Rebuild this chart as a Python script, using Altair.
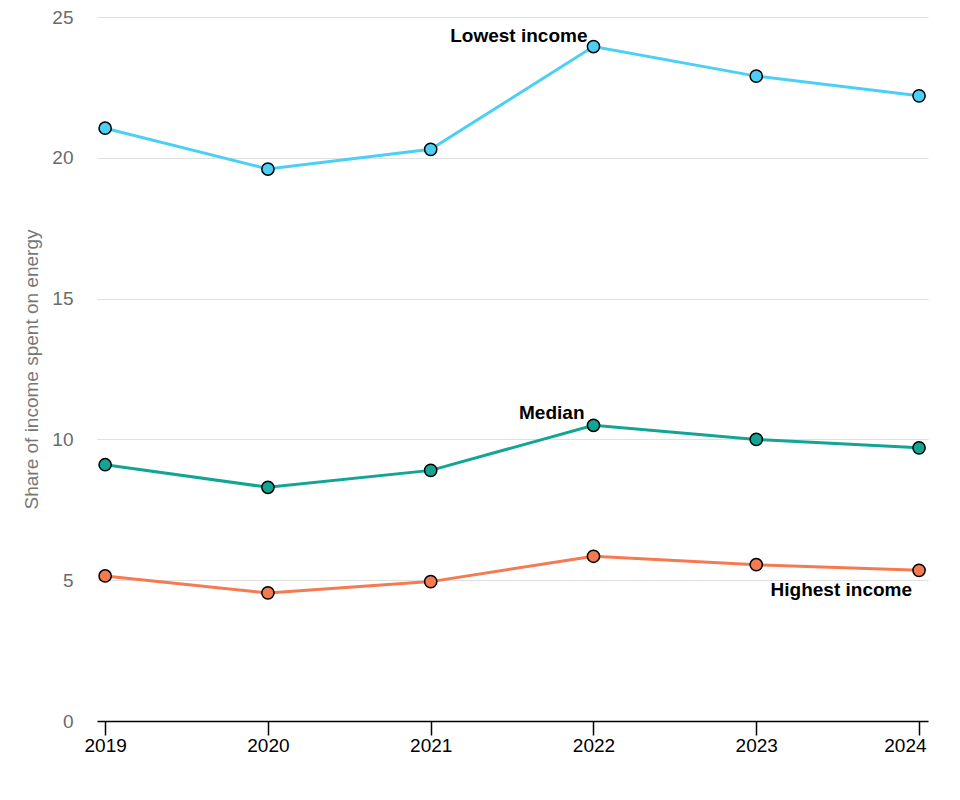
import altair as alt
import pandas as pd

years = [2019, 2020, 2021, 2022, 2023, 2024]
lowest = [21.05, 19.6, 20.3, 23.95, 22.9, 22.2]
median = [9.1, 8.3, 8.9, 10.5, 10.0, 9.7]
highest = [5.15, 4.55, 4.95, 5.85, 5.55, 5.35]
groups = ["Lowest income", "Median", "Highest income"]
colors = ["#4ccff5", "#12a594", "#f47a52"]
y_ticks = [0, 5, 10, 15, 20, 25]

rows = []
for g, vals in zip(groups, [lowest, median, highest]):
    for yr, v in zip(years, vals):
        rows.append({"year": yr, "value": v, "group": g})
df = pd.DataFrame(rows)

FONT = "Liberation Sans"

x = alt.X("year:Q",
          scale=alt.Scale(domain=[2018.95, 2024.055], nice=False, zero=False),
          axis=alt.Axis(values=years, format="d", title=None, grid=False,
                        domainColor="black", domainWidth=1.5,
                        tickColor="black", tickWidth=1.5, tickSize=14,
                        labelColor="black", labelFontSize=19, labelFont=FONT,
                        labelPadding=1,
                        labelAlign=alt.expr("datum.value == 2024 ? 'right' : 'center'"),
                        labelOffset=alt.expr("datum.value == 2024 ? 7 : 0")))
y = alt.Y("value:Q",
          scale=alt.Scale(domain=[0, 25], nice=False),
          axis=alt.Axis(values=y_ticks, title="Share of income spent on energy",
                        titleColor="#777777", titleFontSize=19, titleFontWeight="normal",
                        titleFont=FONT, titlePadding=10,
                        labelColor="#6b6b6b", labelFontSize=19, labelFont=FONT,
                        labelPadding=24, ticks=False, domain=False,
                        gridColor=alt.expr("datum.value == 0 ? 'transparent' : '#e0e0e0'"),
                        gridWidth=1))
color = alt.Color("group:N", scale=alt.Scale(domain=groups, range=colors), legend=None)

base = alt.Chart(df)
lines = base.mark_line(strokeWidth=3).encode(x=x, y=y, color=color, detail="group:N")
points = base.mark_point(filled=True, size=150, stroke="black", strokeWidth=1.5, opacity=1).encode(
    x=x, y=y, fill=alt.Fill("group:N", scale=alt.Scale(domain=groups, range=colors), legend=None))

lab_low = base.transform_filter("datum.group == 'Lowest income' && datum.year == 2022").mark_text(
    align="right", baseline="middle", dx=-6, dy=-11, fontSize=19, fontWeight="bold", font=FONT, color="black"
).encode(x=x, y=y, text="group:N")
lab_med = base.transform_filter("datum.group == 'Median' && datum.year == 2022").mark_text(
    align="right", baseline="middle", dx=-9, dy=-12, fontSize=19, fontWeight="bold", font=FONT, color="black"
).encode(x=x, y=y, text="group:N")
lab_high = base.transform_filter("datum.group == 'Highest income' && datum.year == 2024").mark_text(
    align="right", baseline="middle", dx=-7, dy=20, fontSize=19, fontWeight="bold", font=FONT, color="black"
).encode(x=x, y=y, text="group:N")

chart = alt.layer(lines, points, lab_low, lab_med, lab_high).properties(
    width=831, height=704,
    background="white",
    autosize=alt.AutoSizeParams(type="none"),
    padding={"left": 89, "top": 9, "right": 10, "bottom": 60},
).configure_view(stroke=None)

chart.save("out.html", embed_options={"renderer": "svg", "actions": False})
